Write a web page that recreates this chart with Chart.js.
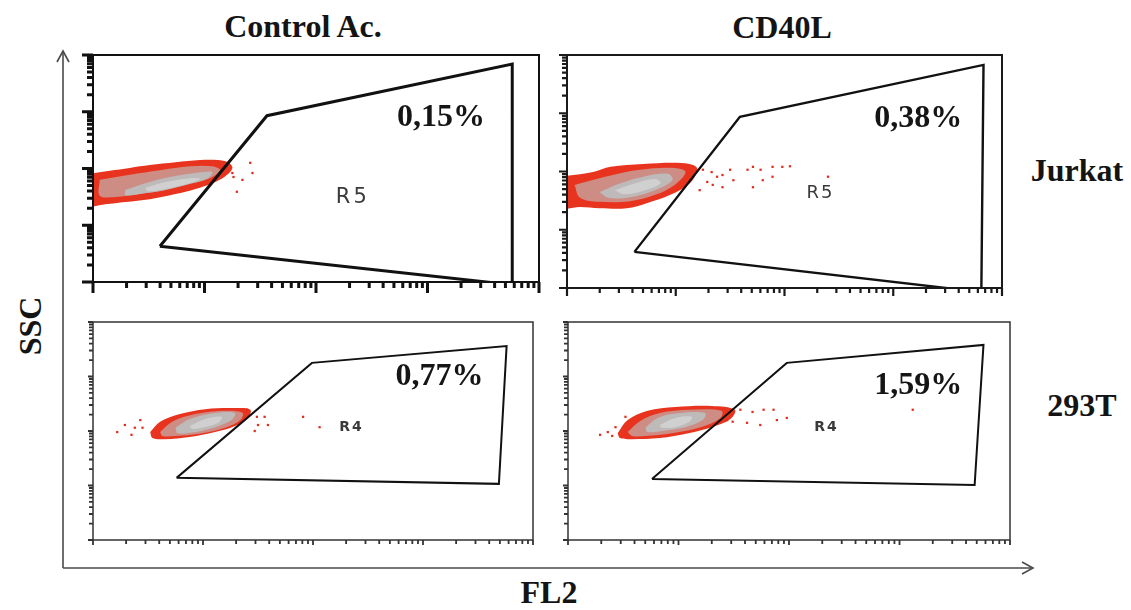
<!DOCTYPE html>
<html>
<head>
<meta charset="utf-8">
<script src="https://cdn.jsdelivr.net/npm/chart.js@4.4.1/dist/chart.umd.min.js"></script>
<style>
  body { margin: 0; background: #fff; width: 1131px; height: 610px; position: relative; overflow: hidden; }
  canvas { position: absolute; }
  svg { position: absolute; left: 0; top: 0; }
  .lbl { position: absolute; font-family: "Liberation Serif", "Times New Roman", serif; font-weight: bold;
         font-size: 32px; color: #141414; transform: translate(-50%, -50%); white-space: nowrap; }
</style>
</head>
<body>
<svg width="1131" height="610">
  <g stroke="#4a4a4a" stroke-width="1.6" fill="none">
    <line x1="63" y1="568" x2="63" y2="51"/>
    <polyline points="57,62 63,51 69,62"/>
    <line x1="63" y1="568" x2="1033" y2="568"/>
    <polyline points="1022,562 1033,568 1022,574"/>
  </g>
</svg>

<div class="lbl" style="left:303px;top:26px">Control Ac.</div>
<div class="lbl" style="left:782px;top:27px">CD40L</div>
<div class="lbl" style="left:1077px;top:170px">Jurkat</div>
<div class="lbl" style="left:1082px;top:405px">293T</div>
<div class="lbl" style="left:30px;top:326px;transform:translate(-50%,-50%) rotate(-90deg)">SSC</div>
<div class="lbl" style="left:549px;top:592px">FL2</div>

<canvas id="p1" width="474" height="255" style="left:79px;top:41px"></canvas>
<canvas id="p2" width="463" height="261" style="left:553px;top:41px"></canvas>
<canvas id="p3" width="468" height="246" style="left:79px;top:308px"></canvas>
<canvas id="p4" width="470" height="246" style="left:554px;top:308px"></canvas>

<script>
// both axes are log10 of the channel value, 4 decades
const axisMin = 0;
const axisMax = 4;

const percents = ['0,15%', '0,38%', '0,77%', '1,59%'];
const regions = ['R5', 'R5', 'R4', 'R4'];

// gates [log FL2, log SSC]
const p1Gate = [[0.60,0.63],[1.56,2.93],[3.76,3.84],[3.76,-0.05]];
const p2Gate = [[0.62,0.62],[1.59,2.94],[3.83,3.83],[3.81,-0.07]];
const p3Gate = [[0.76,1.14],[1.99,3.25],[3.76,3.56],[3.69,1.03]];
const p4Gate = [[0.76,1.12],[1.98,3.25],[3.76,3.58],[3.68,1.01]];

// density contours of the main population (outer -> core)
const p1Outer = [[-0.05,1.90],[0.15,1.96],[0.33,2.01],[0.51,2.06],[0.74,2.11],[0.96,2.15],[1.12,2.15],[1.21,2.11],[1.25,2.01],[1.19,1.87],[1.07,1.74],[0.92,1.64],[0.74,1.55],[0.51,1.46],[0.29,1.41],[0.11,1.37],[-0.05,1.36]];
const p1Mid   = [[0.06,1.80],[0.33,1.89],[0.60,1.97],[0.87,2.04],[1.07,2.04],[1.14,1.97],[1.05,1.83],[0.87,1.73],[0.65,1.62],[0.42,1.55],[0.20,1.50],[0.06,1.52]];
const p1Gray  = [[0.29,1.62],[0.47,1.74],[0.69,1.85],[0.92,1.92],[1.07,1.94],[1.03,1.83],[0.87,1.73],[0.65,1.62],[0.42,1.55],[0.29,1.53]];
const p1Core  = [[0.47,1.66],[0.65,1.76],[0.87,1.83],[0.96,1.81],[0.85,1.73],[0.65,1.64],[0.49,1.60]];
const p1Events = [[1.41,2.10],[1.43,1.92],[1.26,1.85],[1.34,1.80],[1.29,1.59],[1.25,1.92]];

const p2Outer = [[-0.06,1.91],[0.24,1.99],[0.40,2.08],[0.70,2.13],[1.01,2.15],[1.16,2.11],[1.20,2.03],[1.13,1.80],[0.95,1.60],[0.74,1.46],[0.55,1.37],[0.30,1.37],[0.12,1.39],[-0.06,1.39]];
const p2Mid   = [[0.07,1.77],[0.35,1.91],[0.67,2.03],[0.99,2.06],[1.09,1.99],[0.99,1.77],[0.81,1.60],[0.58,1.49],[0.30,1.48],[0.12,1.55]];
const p2Gray  = [[0.30,1.65],[0.49,1.80],[0.72,1.92],[0.93,1.96],[0.97,1.85],[0.81,1.68],[0.58,1.56],[0.38,1.55]];
const p2Core  = [[0.44,1.68],[0.63,1.80],[0.81,1.87],[0.86,1.80],[0.72,1.68],[0.53,1.61]];
const p2Events = [[1.25,2.03],[1.33,1.99],[1.38,1.91],[1.43,1.94],[1.50,2.03],[1.53,1.85],[1.43,1.73],[1.34,1.77],[1.22,1.68],[1.29,1.82],[1.66,2.03],[1.71,2.08],[1.78,2.03],[1.80,1.85],[1.89,2.08],[1.98,2.08],[2.05,2.09],[1.71,1.73],[1.89,1.91],[2.40,1.91]];

const p3Outer = [[0.52,1.98],[0.61,2.17],[0.79,2.31],[1.02,2.40],[1.29,2.42],[1.43,2.39],[1.41,2.24],[1.29,2.09],[1.11,1.98],[0.88,1.89],[0.65,1.85],[0.54,1.87]];
const p3Mid   = [[0.61,1.98],[0.72,2.17],[0.93,2.31],[1.20,2.37],[1.36,2.33],[1.34,2.20],[1.20,2.06],[0.97,1.95],[0.75,1.91],[0.63,1.91]];
const p3Gray  = [[0.75,2.06],[0.88,2.22],[1.11,2.33],[1.29,2.33],[1.26,2.20],[1.11,2.07],[0.93,1.98],[0.77,1.96]];
const p3Core  = [[0.88,2.09],[1.02,2.22],[1.17,2.26],[1.14,2.15],[0.99,2.06],[0.90,2.04]];
const p3Events = [[0.22,1.98],[0.29,2.11],[0.43,2.20],[0.35,1.93],[0.45,2.06],[1.49,2.26],[1.56,2.26],[1.59,2.11],[1.50,2.11],[1.91,2.26],[2.06,2.07],[1.40,2.39],[0.38,2.06],[1.47,2.00]];

const p4Outer = [[0.45,1.96],[0.54,2.20],[0.72,2.37],[0.97,2.44],[1.30,2.46],[1.51,2.39],[1.47,2.22],[1.30,2.07],[1.09,1.96],[0.83,1.87],[0.58,1.85],[0.47,1.87]];
const p4Mid   = [[0.54,1.98],[0.65,2.18],[0.83,2.33],[1.10,2.39],[1.39,2.37],[1.38,2.24],[1.20,2.07],[0.94,1.96],[0.70,1.91],[0.58,1.91]];
const p4Gray  = [[0.70,2.06],[0.81,2.24],[1.01,2.33],[1.24,2.33],[1.22,2.20],[1.06,2.07],[0.85,2.00],[0.72,1.98]];
const p4Core  = [[0.83,2.11],[0.97,2.24],[1.12,2.26],[1.10,2.17],[0.97,2.07],[0.85,2.06]];
const p4Events = [[0.29,1.93],[0.36,1.98],[0.43,2.07],[0.52,2.26],[1.56,2.39],[1.67,2.35],[1.77,2.39],[1.86,2.39],[1.89,2.20],[1.98,2.24],[1.74,2.11],[1.62,2.15],[1.49,2.17],[1.44,2.20],[3.12,2.39],[0.40,1.91]];

const panels = [
  { id: 'p1', gate: p1Gate, layers: [p1Outer, p1Mid, p1Gray, p1Core], events: p1Events,
    pctAt: [3.12, 2.89], regAt: [2.33, 1.48],
    st: { frame: 2, tick: 3, major: 11, minor: 6, color: '#111', gate: 3, reg: '21px "DejaVu Sans"', sp: '3px' } },
  { id: 'p2', gate: p2Gate, layers: [p2Outer, p2Mid, p2Gray, p2Core], events: p2Events,
    pctAt: [3.23, 2.90], regAt: [2.33, 1.63],
    st: { frame: 2, tick: 2.2, major: 8, minor: 5, color: '#1a1a1a', gate: 2.4, reg: '18px "DejaVu Sans"', sp: '2px' } },
  { id: 'p3', gate: p3Gate, layers: [p3Outer, p3Mid, p3Gray, p3Core], events: p3Events,
    pctAt: [3.15, 2.99], regAt: [2.35, 2.07],
    st: { frame: 1.5, tick: 1.8, major: 5, minor: 4, color: '#333', gate: 2, reg: 'bold 14px "DejaVu Sans"', sp: '2px' } },
  { id: 'p4', gate: p4Gate, layers: [p4Outer, p4Mid, p4Gray, p4Core], events: p4Events,
    pctAt: [3.17, 2.83], regAt: [2.34, 2.06],
    st: { frame: 1.5, tick: 1.8, major: 5, minor: 4, color: '#333', gate: 2, reg: 'bold 14px "DejaVu Sans"', sp: '2px' } }
];

const layerColors = ['rgb(232,52,30)', 'rgb(205,140,132)', 'rgb(190,186,186)', 'rgb(208,208,208)'];

// log tick positions inside each decade
const logTicks = [];
for (let d = axisMin; d < axisMax; d++) {
  for (let k = 1; k <= 9; k++) logTicks.push({ v: d + Math.log10(k), major: k === 1 });
}
logTicks.push({ v: axisMax, major: true });

const pts = arr => arr.map(p => ({ x: p[0], y: p[1] }));
const closed = arr => pts(arr.concat([arr[0]]));

const facsPlugin = {
  id: 'facs',
  afterDatasetsDraw(chart, args, o) {
    const { ctx, chartArea: a, scales: { x, y } } = chart;
    const s = o.st;
    ctx.save();
    ctx.strokeStyle = s.color;
    ctx.lineWidth = s.frame;
    ctx.strokeRect(a.left, a.top, a.right - a.left, a.bottom - a.top);
    ctx.lineWidth = s.tick;
    ctx.beginPath();
    logTicks.forEach(t => {
      const len = t.major ? s.major : s.minor;
      const px = x.getPixelForValue(t.v);
      ctx.moveTo(px, a.bottom); ctx.lineTo(px, a.bottom + len);
      const py = y.getPixelForValue(t.v);
      ctx.moveTo(a.left, py); ctx.lineTo(a.left - len, py);
    });
    ctx.stroke();

    ctx.textAlign = 'center';
    ctx.textBaseline = 'middle';
    ctx.fillStyle = '#151515';
    ctx.font = 'bold 32px "Liberation Serif", serif';
    ctx.fillText(o.pct, x.getPixelForValue(o.pctAt[0]), y.getPixelForValue(o.pctAt[1]));
    ctx.fillStyle = '#3a3a3a';
    ctx.font = s.reg;
    ctx.letterSpacing = s.sp;
    ctx.fillText(o.reg, x.getPixelForValue(o.regAt[0]), y.getPixelForValue(o.regAt[1]));
    ctx.restore();
  }
};

panels.forEach((p, i) => {
  // higher order is drawn underneath
  const datasets = p.layers.map((l, j) => ({
    data: closed(l), fill: 'shape', backgroundColor: layerColors[j], order: 10 - j,
    borderWidth: 0, pointRadius: 0, tension: 0.35, clip: 0
  }));
  datasets.push({
    data: pts(p.events), showLine: false, pointStyle: 'rect', pointRadius: 1.6, order: 2,
    pointBackgroundColor: 'rgb(225,45,30)', pointBorderWidth: 0
  });
  datasets.push({
    data: closed(p.gate), fill: false, borderColor: '#111', borderWidth: p.st.gate, order: 1,
    pointRadius: 0, tension: 0, borderJoinStyle: 'miter'
  });

  new Chart(document.getElementById(p.id), {
    type: 'line',
    data: { datasets },
    options: {
      responsive: false,
      animation: false,
      events: [],
      layout: { padding: 14 },
      plugins: {
        legend: { display: false },
        tooltip: { enabled: false },
        facs: { st: p.st, pct: percents[i], pctAt: p.pctAt, reg: regions[i], regAt: p.regAt }
      },
      scales: {
        x: { type: 'linear', min: axisMin, max: axisMax, display: false },
        y: { type: 'linear', min: axisMin, max: axisMax, display: false }
      }
    },
    plugins: [facsPlugin]
  });
});
</script>
</body>
</html>
